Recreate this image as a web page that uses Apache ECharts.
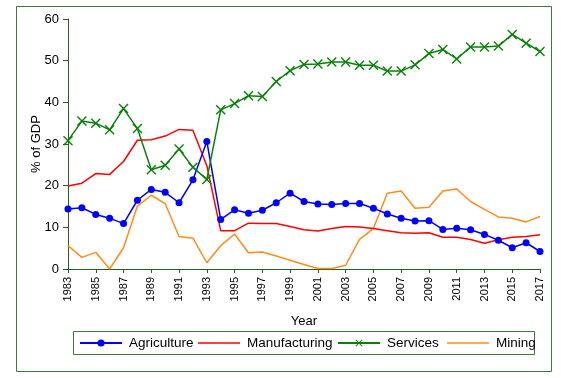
<!DOCTYPE html>
<html>
<head>
<meta charset="utf-8">
<script src="https://cdn.jsdelivr.net/npm/echarts@6/dist/echarts.min.js"></script>
<style>
html,body{margin:0;padding:0;background:#fff;}
#chart{width:561px;height:378px;}
</style>
</head>
<body>
<div id="chart"></div>
<script>
const years = ['1983','1984','1985','1986','1987','1988','1989','1990','1991','1992','1993','1994','1995','1996','1997','1998','1999','2000','2001','2002','2003','2004','2005','2006','2007','2008','2009','2010','2011','2012','2013','2014','2015','2016','2017'];
const agriculture = [14.4,14.7,13.1,12.2,10.9,16.5,19.1,18.4,15.9,21.4,30.6,11.9,14.2,13.4,14.1,15.9,18.2,16.2,15.6,15.5,15.7,15.7,14.6,13.2,12.2,11.5,11.6,9.5,9.8,9.4,8.3,6.9,5.1,6.3,4.2];
const manufacturing = [19.9,20.6,22.9,22.7,25.8,30.9,31.0,31.9,33.5,33.3,24.8,9.2,9.2,11.0,10.9,10.9,10.2,9.4,9.1,9.7,10.2,10.1,9.7,9.2,8.7,8.6,8.7,7.6,7.6,7.1,6.2,7.0,7.6,7.8,8.2];
const services = [30.8,35.5,35.0,33.4,38.5,33.7,23.8,24.9,28.8,24.4,21.5,38.2,39.7,41.6,41.4,45.0,47.6,49.1,49.2,49.7,49.7,48.9,48.9,47.5,47.5,49.0,51.7,52.7,50.4,53.3,53.3,53.5,56.3,54.2,52.2];
const mining = [5.6,2.8,4.0,0.0,5.1,15.1,17.7,15.7,7.8,7.4,1.5,5.6,8.4,3.9,4.1,3.1,2.1,1.1,0.1,0.1,0.9,7.1,9.7,18.2,18.7,14.6,14.8,18.7,19.2,16.2,14.3,12.5,12.2,11.3,12.6];
const seriesNames = ['Agriculture','Manufacturing','Services','Mining'];
const yTicks = [0,10,20,30,40,50,60];

const axisColor = '#245f24';
const frameColor = '#3d7a3d';
const font = 'Liberation Sans, Arial, sans-serif';
const xSymbol = 'path://M0,1L1,0L5,4L9,0L10,1L6,5L10,9L9,10L5,6L1,10L0,9L4,5Z';
const lineIcon = 'path://M0,0L42,0L42,1.5L0,1.5Z';

const chart = echarts.init(document.getElementById('chart'), null, {renderer:'canvas'});

const legendLefts = [79, 198, 337, 447];
const legendIcons = [null, lineIcon, null, lineIcon];
const legends = seriesNames.map((n, i) => ({
  data: [legendIcons[i] ? {name: n, icon: legendIcons[i]} : n],
  left: legendLefts[i],
  top: 336,
  orient: 'horizontal',
  padding: 0,
  itemWidth: 42,
  itemHeight: 9,
  selectedMode: false,
  textStyle: {fontFamily: font, fontSize: 13.5, color: '#000', padding: [0,0,0,2]}
}));

chart.setOption({
  animation: false,
  backgroundColor: '#fff',
  textStyle: {fontFamily: font},
  grid: {left: 68, right: 21, top: 19, bottom: 109, containLabel: false},
  legend: legends,
  graphic: [
    {type: 'rect', shape: {x: 16.5, y: 6.5, width: 535, height: 365}, style: {fill: 'none', stroke: frameColor, lineWidth: 1}, z: -1},
    {type: 'rect', shape: {x: 73.5, y: 331.5, width: 461, height: 23}, style: {fill: 'none', stroke: frameColor, lineWidth: 1}, z: -1}
  ],
  xAxis: {
    type: 'category',
    data: years,
    boundaryGap: false,
    name: 'Year',
    nameLocation: 'middle',
    nameGap: 46,
    nameMoveOverlap: false,
    nameTextStyle: {fontFamily: font, fontSize: 13, color: '#000'},
    axisLine: {lineStyle: {color: axisColor, width: 1}},
    axisTick: {interval: 1, length: 4, lineStyle: {color: axisColor}},
    axisLabel: {interval: 1, rotate: 90, margin: 8, fontFamily: font, fontSize: 11, color: '#000'},
    splitLine: {show: false}
  },
  yAxis: {
    type: 'value',
    min: yTicks[0],
    max: yTicks[yTicks.length - 1],
    interval: 10,
    name: '% of GDP',
    nameLocation: 'middle',
    nameGap: 25,
    nameMoveOverlap: false,
    nameTextStyle: {fontFamily: font, fontSize: 13, color: '#000'},
    axisLine: {show: true, lineStyle: {color: axisColor, width: 1}},
    axisTick: {show: true, length: 5, lineStyle: {color: axisColor}},
    axisLabel: {margin: 9, fontFamily: font, fontSize: 13, color: '#000'},
    splitLine: {show: false}
  },
  series: [
    {name: seriesNames[0], type: 'line', data: agriculture, symbol: 'circle', symbolSize: 7, showAllSymbol: true,
     lineStyle: {color: '#0000ff', width: 1.5}, itemStyle: {color: '#0000ff'}, z: 4},
    {name: seriesNames[1], type: 'line', data: manufacturing, symbol: 'none', showSymbol: false,
     lineStyle: {color: '#ff0000', width: 1.5}, itemStyle: {color: '#ff0000'}, z: 3},
    {name: seriesNames[2], type: 'line', data: services, symbol: xSymbol, symbolSize: 10, showAllSymbol: true,
     lineStyle: {color: '#0a800a', width: 1.5}, itemStyle: {color: '#0a800a'}, z: 5},
    {name: seriesNames[3], type: 'line', data: mining, symbol: 'none', showSymbol: false,
     lineStyle: {color: '#ff8c1a', width: 1.5}, itemStyle: {color: '#ff8c1a'}, z: 2}
  ]
});
</script>
</body>
</html>
